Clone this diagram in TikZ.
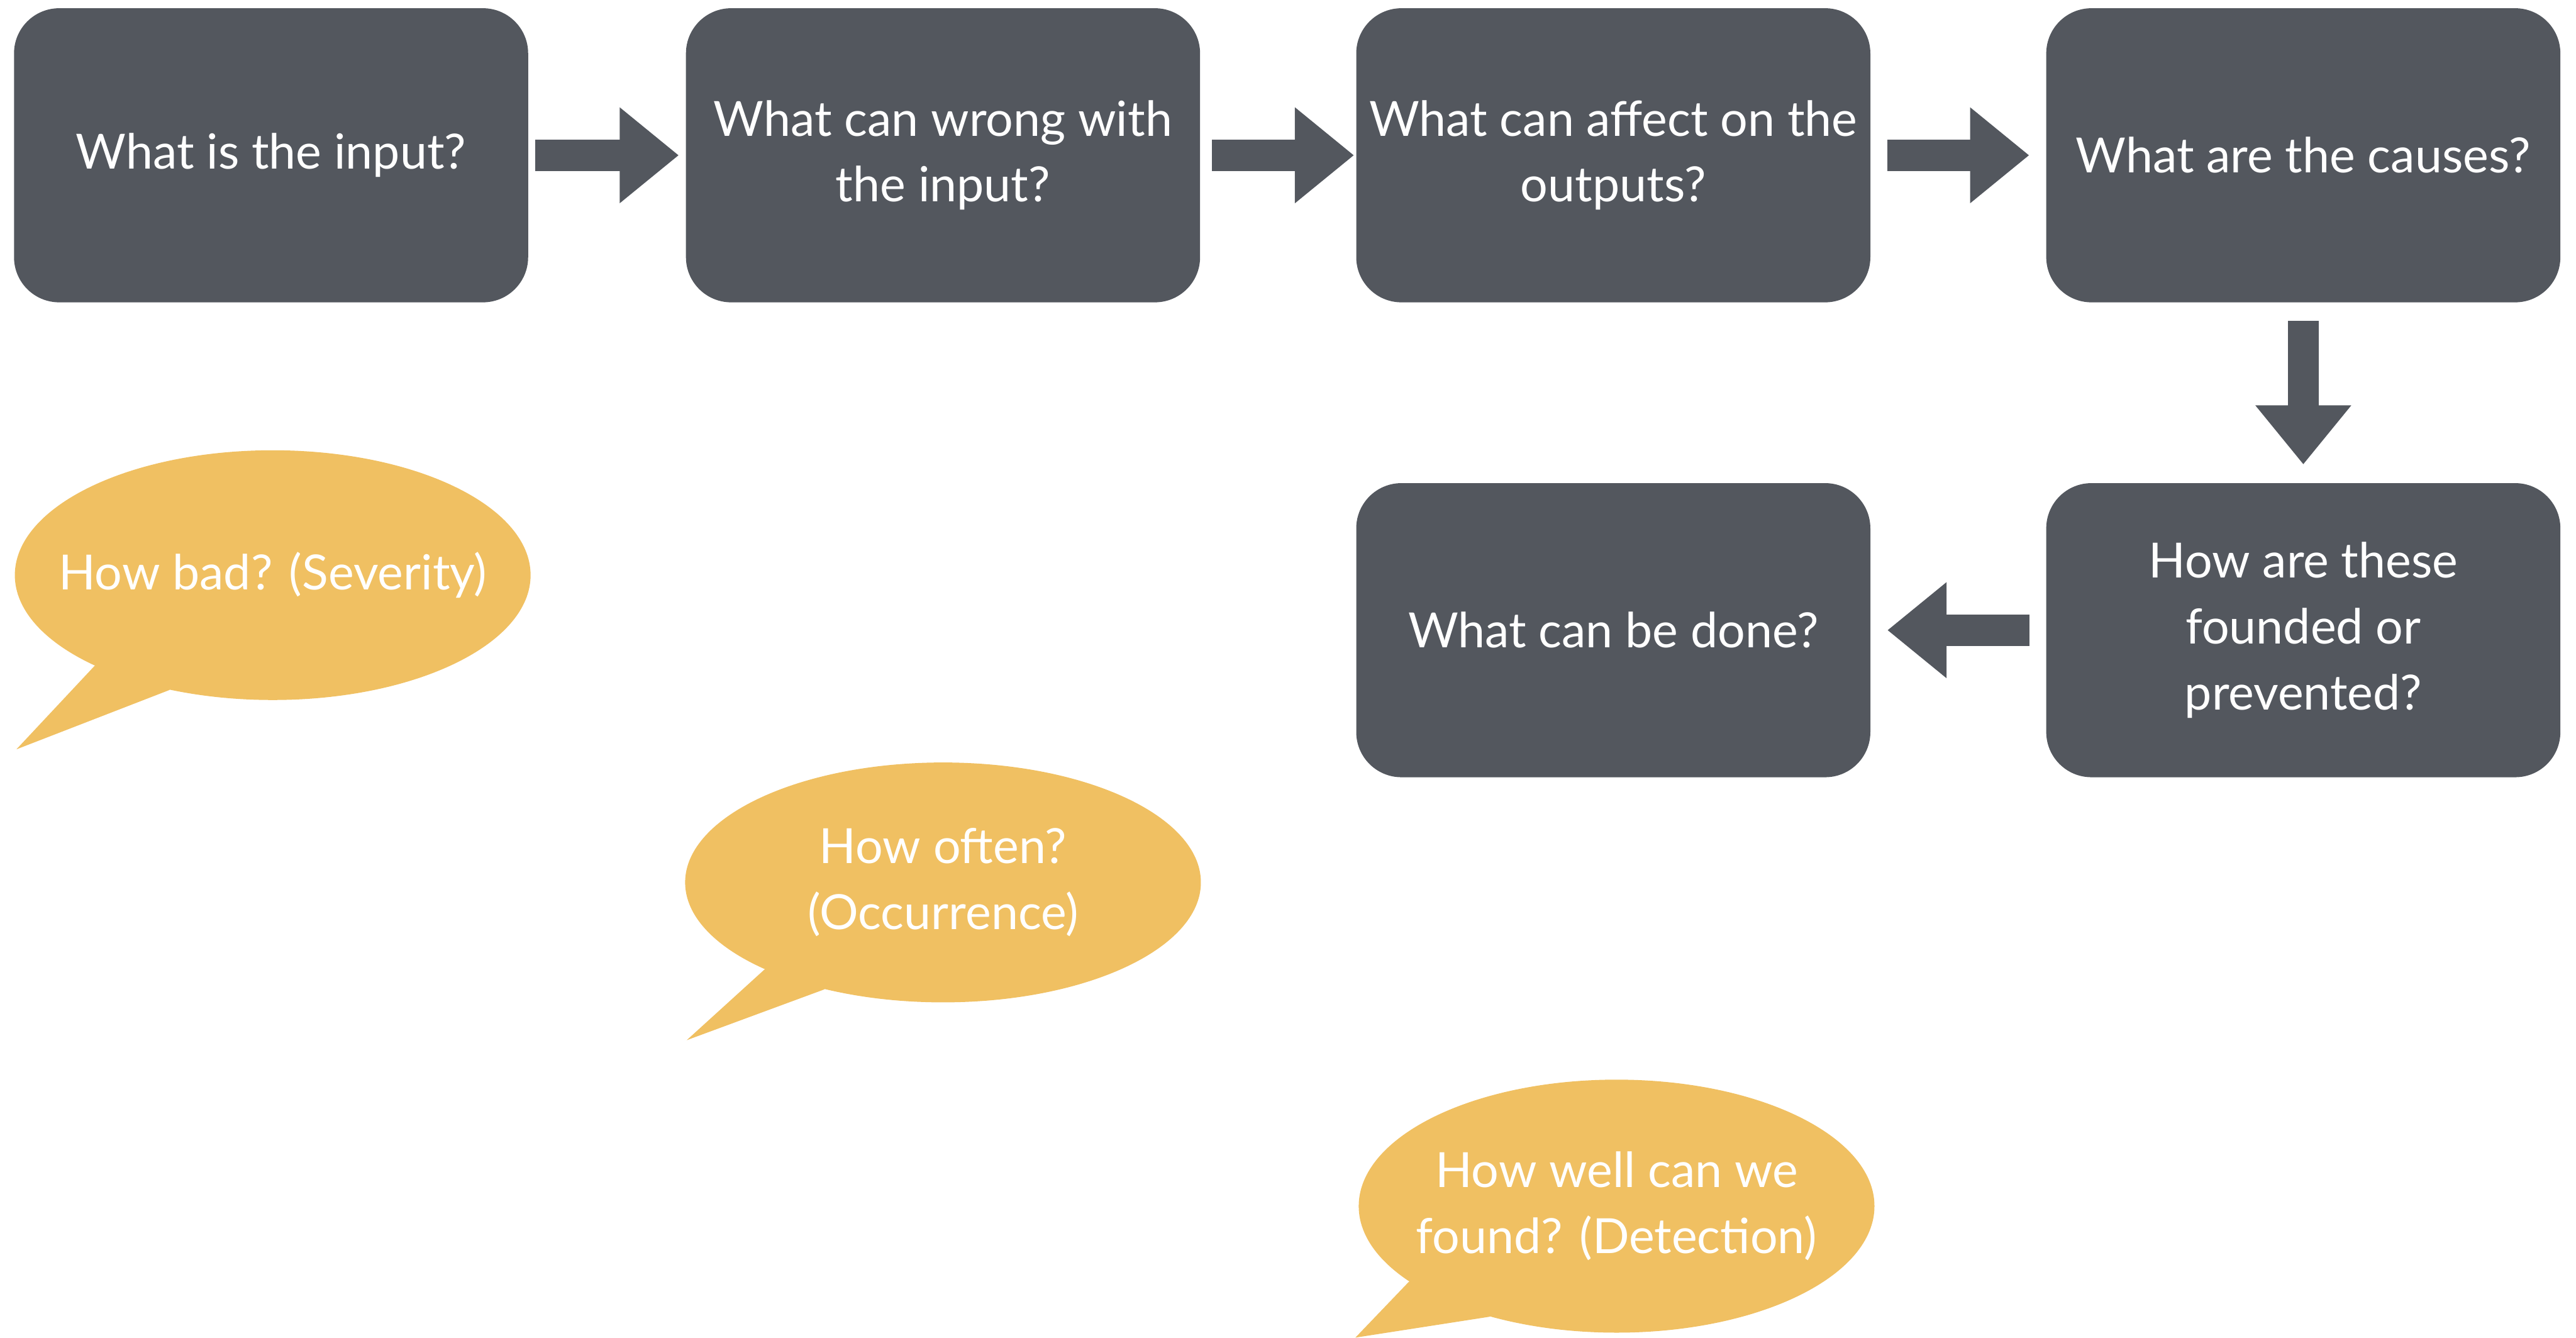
\documentclass[tikz,border=0pt]{standalone}
\usepackage{fontspec}
\setmainfont{Lato}
\usetikzlibrary{arrows.meta,shapes.geometric,backgrounds}
\definecolor{slate}{HTML}{53575E}
\definecolor{honey}{HTML}{F0C062}

\begin{document}
\begin{tikzpicture}[x=0.02cm,y=-0.02cm,
    question/.style={fill=slate,text=white,rounded corners=0.55cm,
      minimum width=6.26cm,minimum height=3.58cm,inner sep=0pt,align=center,
      font=\fontsize{16.8}{22.8}\selectfont},
    bubble/.style={ellipse,fill=honey,minimum width=6.28cm,inner sep=0pt},
    btext/.style={text=white,align=center,font=\fontsize{16.8}{22.8}\selectfont},
    flow/.style={draw=slate,line width=0.38cm,
      -{Triangle[length=0.72cm,width=1.12cm]}}]
  \useasboundingbox (0,0) rectangle (1568,814);
  % question chain
  \node[question] (input)   at (165,94.5)   {What is the input?};
  \node[question] (wrong)   at (574,94.5)   {What can wrong with\\the input?};
  \node[question] (affect)  at (982,94.5)   {What can affect on the\\outputs?};
  \node[question] (causes)  at (1402,94.5)  {What are the causes?};
  \node[question] (prevent) at (1402,383.5) {How are these\\founded or\\prevented?};
  \node[question] (done)    at (982,383.5)  {What can be done?};
  \path (input)   edge[flow,shorten <=0.08cm,shorten >=0.08cm] (wrong)
        (wrong)   edge[flow,shorten <=0.14cm,shorten >=0.02cm] (affect)
        (affect)  edge[flow,shorten <=0.2cm,shorten >=0.2cm] (causes)
        (causes)  edge[flow,shorten <=0.22cm,shorten >=0.22cm] (prevent)
        (prevent) edge[flow,shorten <=0.2cm,shorten >=0.2cm] (done);
  % speech bubbles
  \node[bubble,minimum height=3.04cm] (sev) at (166,350) {};
  \node[btext] (sevtxt) at (sev.center) {How bad? (Severity)};
  \node[bubble,minimum height=2.92cm] (occ) at (574,537) {};
  \node[btext] (occtxt) at (occ.center) {How often?\\(Occurrence)};
  \node[bubble,minimum height=3.08cm] (det) at (984,734) {};
  \node[btext] (dettxt) at (det.center) {How well can we\\found? (Detection)};
  \coordinate (sevtip) at (10,456);
  \coordinate (occtip) at (418,633);
  \coordinate (dettip) at (825,814);
  \begin{scope}[on background layer]
    \fill[honey] (sev.center) -- (sev.207) -- (sevtip) -- (sev.228) -- cycle;
    \fill[honey] (occ.center) -- (occ.206) -- (occtip) -- (occ.222) -- cycle;
    \fill[honey] (det.center) -- (det.200) -- (dettip) -- (det.221) -- cycle;
  \end{scope}
\end{tikzpicture}
\end{document}
